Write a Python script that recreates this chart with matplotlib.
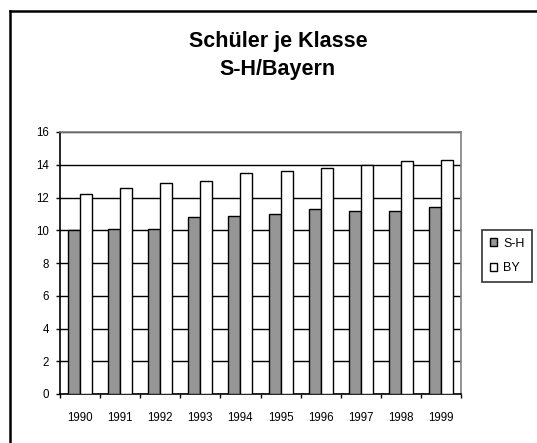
#!/usr/bin/env python3
import numpy as np
import matplotlib
matplotlib.use("Agg")
import matplotlib.pyplot as plt
from matplotlib.lines import Line2D

years = ["1990", "1991", "1992", "1993", "1994", "1995", "1996", "1997", "1998", "1999"]
sh = [10.0, 10.1, 10.1, 10.8, 10.9, 11.0, 11.3, 11.2, 11.2, 11.4]
by = [12.2, 12.6, 12.9, 13.0, 13.5, 13.6, 13.8, 14.0, 14.2, 14.3]
yticks = [0, 2, 4, 6, 8, 10, 12, 14, 16]

plt.rcParams['font.family'] = ['Liberation Sans', 'DejaVu Sans']

W, H = 537, 443
fig = plt.figure(figsize=(W / 100, H / 100), dpi=100)

# plot area in pixels: left 60, right 461, top 132, bottom 394
ax = fig.add_axes([60 / W, (H - 394) / H, 401 / W, 262 / H])

x = np.arange(len(years))
bw = 0.3
ax.bar(x - bw / 2, sh, bw, color='#969696', edgecolor='black', linewidth=1, label='S-H', zorder=3)
ax.bar(x + bw / 2, by, bw, color='white', edgecolor='black', linewidth=1, label='BY', zorder=3)

ax.set_xlim(-0.5, len(years) - 0.5)
ax.set_ylim(0, 16)
ax.set_yticks(yticks)
ax.yaxis.grid(True, color='black', linewidth=1, zorder=0)
ax.set_axisbelow(True)

# ticks between categories, labels at centres
ax.set_xticks(np.arange(-0.5, len(years), 1.0))
ax.set_xticklabels([])
ax.set_xticks(x, minor=True)
ax.set_xticklabels(years, minor=True)
ax.tick_params(axis='x', which='major', direction='out', length=3, width=1)
ax.tick_params(axis='x', which='minor', length=0, pad=13, labelsize=8.3)
ax.tick_params(axis='y', direction='out', length=3, width=1, pad=5, labelsize=8.3)

for s in ['left', 'bottom']:
    ax.spines[s].set_color('black')
    ax.spines[s].set_linewidth(1.2)
for s in ['top', 'right']:
    ax.spines[s].set_color('#808080')
    ax.spines[s].set_linewidth(1.2)

fig.text(278 / W, 1 - 42 / H, "Schüler je Klasse", ha='center', va='center',
         fontsize=15.5, fontweight='bold')
fig.text(278 / W, 1 - 70 / H, "S-H/Bayern", ha='center', va='center',
         fontsize=15.5, fontweight='bold')

leg = fig.legend(loc='upper left', bbox_to_anchor=(482 / W, 1 - 230 / H),
                 fontsize=9, frameon=True, fancybox=False, edgecolor='black',
                 handlelength=0.6, handleheight=0.6, handletextpad=0.5,
                 borderpad=0.6, labelspacing=1.0, borderaxespad=0)
leg.get_frame().set_linewidth(1.2)

# outer chart border (top and left visible)
fig.add_artist(Line2D([10 / W, 1], [1 - 11 / H, 1 - 11 / H], transform=fig.transFigure,
                      color='black', linewidth=1.8))
fig.add_artist(Line2D([10 / W, 10 / W], [0, 1 - 11 / H], transform=fig.transFigure,
                      color='black', linewidth=1.8))

fig.savefig("out.png", dpi=100)
